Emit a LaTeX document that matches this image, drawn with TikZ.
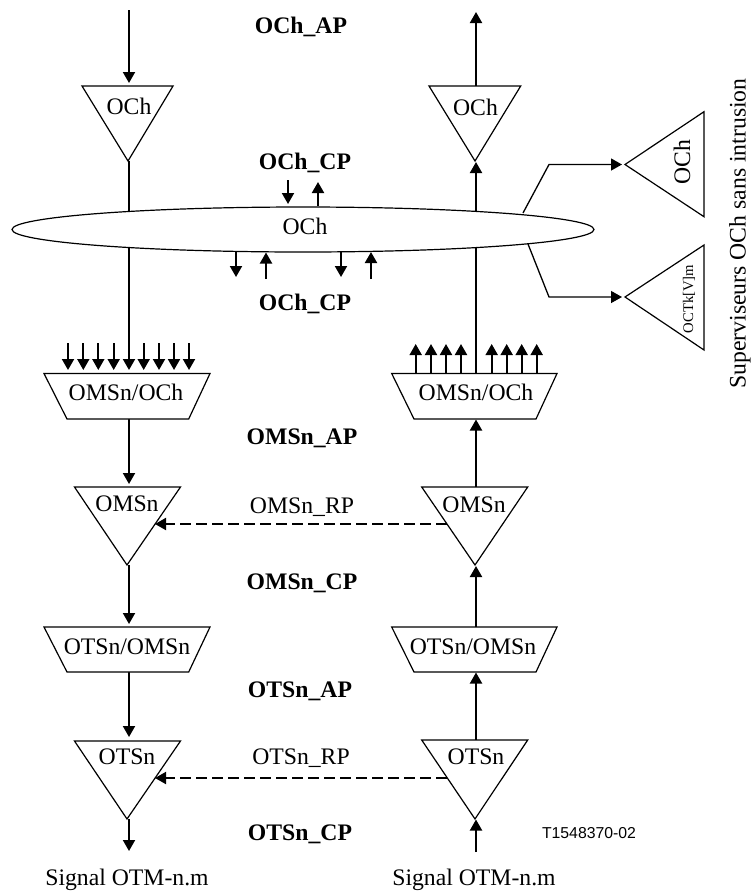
\documentclass[tikz,border=0pt]{standalone}
\usepackage{fontspec}
\setmainfont{Liberation Serif}
\newfontfamily\arialf{Liberation Sans}
\usetikzlibrary{arrows.meta,shapes.geometric}
\tikzset{
  shapeline/.style={draw=black,line width=1.2pt,line join=miter,fill=white},
  conn/.style={draw=black,line width=1.9pt,line cap=butt},
  thinconn/.style={draw=black,line width=1.3pt,line join=miter},
  arr/.style={-{Triangle[length=11pt,width=12pt]}},
  dashconn/.style={conn,arr,dash pattern=on 11pt off 5pt},
  lbl/.style={anchor=base,inner sep=0pt,font=\fontsize{23.7}{28}\selectfont},
  blbl/.style={lbl,font=\fontsize{23.7}{28}\selectfont\bfseries},
}
\newcommand{\tridown}[5]{% name, xleft, xright, ytop, apex
  \coordinate (#1-l) at (#2,#4);
  \coordinate (#1-r) at (#3,#4);
  \coordinate (#1-a) at #5;
  \draw[shapeline] (#1-l) -- (#1-r) -- (#1-a) -- cycle;
}
\newcommand{\trapez}[7]{% name, topl, topr, ytop, botl, botr, ybot
  \coordinate (#1-tl) at (#2,#4);
  \coordinate (#1-tr) at (#3,#4);
  \coordinate (#1-bl) at (#5,#7);
  \coordinate (#1-br) at (#6,#7);
  \draw[shapeline] (#1-tl) -- (#1-tr) -- (#1-br) -- (#1-bl) -- cycle;
}
\begin{document}
\begin{tikzpicture}[x=1pt,y=-1pt]
\useasboundingbox (0,0) rectangle (754,892);
% connection points on the two columns
\coordinate (linL) at (129,10);
\coordinate (lt1) at (129,86);
\coordinate (la1) at (129,161);
\coordinate (lm1) at (129,373.5);
\coordinate (lb1) at (129,419);
\coordinate (lt2) at (129,487);
\coordinate (la2) at (129,565);
\coordinate (lm2) at (129,627);
\coordinate (lb2) at (129,672);
\coordinate (lt3) at (129,741);
\coordinate (la3) at (129,819);
\coordinate (loutL) at (129,851);
\coordinate (routR) at (476,12);
\coordinate (rt1) at (476,86);
\coordinate (ra1) at (476,162);
\coordinate (rm1) at (476,373.5);
\coordinate (rb1) at (476,419.5);
\coordinate (rt2) at (476,487);
\coordinate (ra2) at (476,566);
\coordinate (rm2) at (476,627);
\coordinate (rb2) at (476,672.5);
\coordinate (rt3) at (476,741);
\coordinate (ra3) at (476,819.5);
\coordinate (rinR) at (476,852);
% vertical connectors
\draw[conn,arr,shorten >=3pt] (linL) -- (lt1);
\draw[conn,arr] (rt1) -- (routR);
\draw[conn,arr,shorten >=3.5pt] (la1) -- (lm1);
\draw[conn,arr] (rm1) -- (ra1);
\draw[conn,arr,shorten >=3pt] (lb1) -- (lt2);
\draw[conn,arr,shorten >=3pt] (la2) -- (lm2);
\draw[conn,arr,shorten >=4pt] (lb2) -- (lt3);
\draw[conn,arr] (la3) -- (loutL);
\draw[conn,arr] (rt2) -- (rb1);
\draw[conn,arr] (rm2) -- (ra2);
\draw[conn,arr] (rt3) -- (rb2);
\draw[conn,arr] (rinR) -- (ra3);
% central ellipse
\node[shapeline,ellipse,minimum width=582pt,minimum height=45pt,inner sep=0pt] (och) at (303,229.5) {};
\node[lbl] (ochtxt) at (305,234) {OCh};
% triangles
\tridown{tl1}{82}{173}{86}{(128,161)}
\tridown{tr1}{429}{520.7}{86}{(475,161)}
\tridown{tl2}{74.5}{180.5}{487}{(127,565)}
\tridown{tr2}{421.7}{527.7}{487}{(475,565)}
\tridown{tl3}{74.5}{180.5}{741}{(127,819)}
\tridown{tr3}{421.7}{527.7}{740}{(475,819)}
% trapezia
\trapez{pl1}{44}{210}{373.5}{67}{188.7}{419}
\trapez{pr1}{391.7}{557}{373.5}{414}{536}{419}
\trapez{pl2}{44}{210}{627}{67}{188.7}{672}
\trapez{pr2}{391.7}{557}{627}{414}{536}{672}
% small arrows on the ellipse
\coordinate (a1) at (288,180);
\coordinate (a1e) at (288,204);
\coordinate (a2) at (318,206);
\coordinate (a2e) at (318,182);
\coordinate (b1) at (236,252);
\coordinate (b1e) at (236,277);
\coordinate (b2) at (266,279);
\coordinate (b2e) at (266,252.5);
\coordinate (b3) at (341,252);
\coordinate (b3e) at (341,277);
\coordinate (b4) at (371,279);
\coordinate (b4e) at (371,252);
\draw[conn,arr] (a1) -- (a1e);
\draw[conn,arr] (a2) -- (a2e);
\draw[conn,arr] (b1) -- (b1e);
\draw[conn,arr] (b2) -- (b2e);
\draw[conn,arr] (b3) -- (b3e);
\draw[conn,arr] (b4) -- (b4e);
% arrow combs
\foreach \x in {68,83.3,98.3,113.7,143.7,159,174,189}{
  \coordinate (cs) at (\x,343);
  \coordinate (ce) at (\x,370);
  \draw[conn,arr] (cs) -- (ce);
}
\foreach \x in {415.7,431,446,461,491.7,506.7,521.7,536.7}{
  \coordinate (cs) at (\x,373);
  \coordinate (ce) at (\x,344);
  \draw[conn,arr] (cs) -- (ce);
}
% side monitors
\coordinate (m1a) at (625,164.5);
\coordinate (m1t) at (704,111.7);
\coordinate (m1b) at (704,216.7);
\coordinate (m2a) at (625,297);
\coordinate (m2t) at (704,245);
\coordinate (m2b) at (704,350);
\draw[shapeline] (m1a) -- (m1t) -- (m1b) -- cycle;
\draw[shapeline] (m2a) -- (m2t) -- (m2b) -- cycle;
\coordinate (e1) at (523,213);
\coordinate (k1) at (549,164.5);
\coordinate (e2) at (528,244);
\coordinate (k2) at (549,297);
\draw[thinconn,arr,shorten >=3pt] (e1) -- (k1) -- (m1a);
\draw[thinconn,arr,shorten >=3pt] (e2) -- (k2) -- (m2a);
% dashed remote links
\coordinate (d1r) at (446.7,524);
\coordinate (d1l) at (155,524);
\coordinate (d2r) at (446.7,778);
\coordinate (d2l) at (155,778);
\draw[dashconn] (d1r) -- (d1l);
\draw[dashconn] (d2r) -- (d2l);
% box labels
\node[lbl] (t1) at (129,114) {OCh};
\node[lbl] (t2) at (475.5,115) {OCh};
\node[lbl] (t3) at (126,400.7) {OMSn/OCh};
\node[lbl] (t4) at (476,400.7) {OMSn/OCh};
\node[lbl] (t5) at (127,511.7) {OMSn};
\node[lbl] (t6) at (474,512) {OMSn};
\node[lbl] (t7) at (127,654) {OTSn/OMSn};
\node[lbl] (t8) at (473,654) {OTSn/OMSn};
\node[lbl] (t9) at (127,764) {OTSn};
\node[lbl] (t10) at (476,764) {OTSn};
\node[lbl,rotate=90] (t11) at (690,162) {OCh};
\node[lbl,rotate=90,font=\fontsize{14.7}{16}\selectfont] (t12) at (693,299) {OCTk[V]m};
\node[lbl,rotate=90] (t13) at (745.7,233.5) {Superviseurs OCh sans intrusion};
% point labels
\node[blbl] (p1) at (301,33) {OCh\_AP};
\node[blbl] (p2) at (305,169) {OCh\_CP};
\node[blbl] (p3) at (305,310) {OCh\_CP};
\node[blbl] (p4) at (302,444) {OMSn\_AP};
\node[lbl] (p5) at (302,513) {OMSn\_RP};
\node[blbl] (p6) at (302,589) {OMSn\_CP};
\node[blbl] (p7) at (300,697) {OTSn\_AP};
\node[lbl] (p8) at (301,764) {OTSn\_RP};
\node[blbl] (p9) at (300,840) {OTSn\_CP};
\node[lbl] (s1) at (127,885) {Signal OTM-n.m};
\node[lbl] (s2) at (474,885) {Signal OTM-n.m};
\node[lbl,font=\arialf\fontsize{15.8}{18}\selectfont] (code) at (589,838) {T1548370-02};
\end{tikzpicture}
\end{document}
